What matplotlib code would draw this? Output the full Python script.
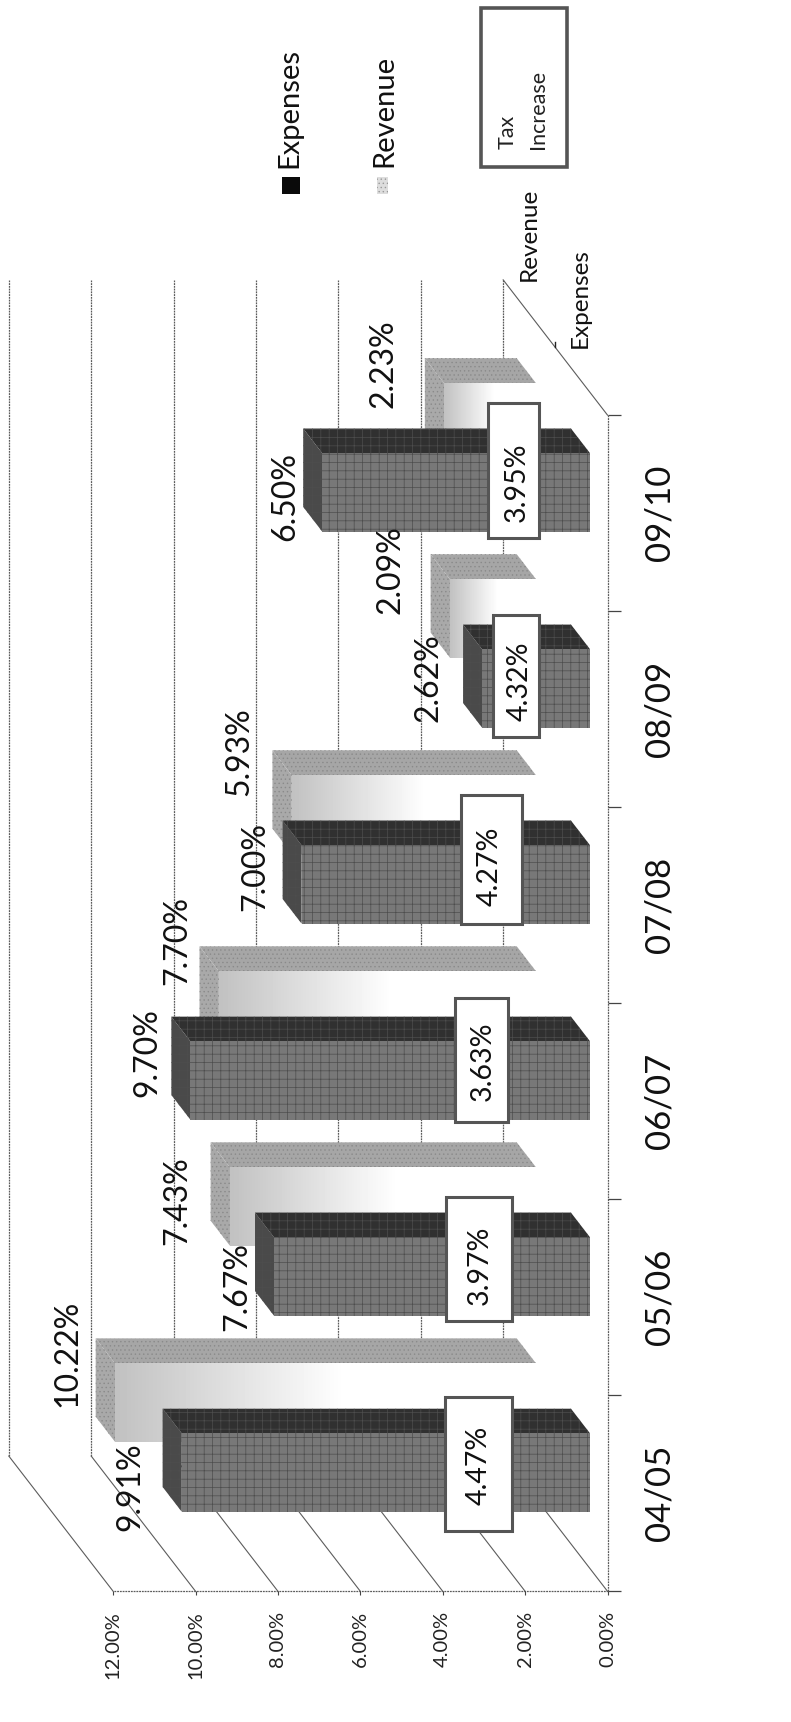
import numpy as np
import matplotlib
matplotlib.use("Agg")
import matplotlib.pyplot as plt
from matplotlib.patches import Polygon, Rectangle

plt.rcParams['font.family'] = ['Lato', 'DejaVu Sans']
plt.rcParams['hatch.linewidth'] = 0.5

years = ["04/05", "05/06", "06/07", "07/08", "08/09", "09/10"]
expenses = [9.91, 7.67, 9.70, 7.00, 2.62, 6.50]
revenue = [10.22, 7.43, 7.70, 5.93, 2.09, 2.23]
tax_increase = [4.47, 3.97, 3.63, 4.27, 4.32, 3.95]
value_ticks = [0, 2, 4, 6, 8, 10, 12]

# where the hand placed labels sit on the page, layout units are 720 wide, 1568 high
expense_label_xy = [(119, 1354), (216, 1171), (134, 958), (232, 789), (390, 617), (260, 452)]
revenue_label_xy = [(61, 1232), (161, 1093), (161, 856), (218, 684), (355, 519), (349, 331)]
tax_box_x = [(405, 466), (406, 466), (414, 462), (420, 475), (449, 491), (444, 491)]
tax_box_y = [(1272, 1394), (1090, 1203), (909, 1022), (724, 841), (560, 671), (367, 490)]
tax_label_xy = [(436, 1334), (437, 1152), (439, 966), (446, 789), (473, 620), (470, 439)]

# oblique projection: one unit of depth moves this far in value and category units
DEPTH_V = 2.533
DEPTH_C = 0.69
BAR_LOW, BAR_HIGH = 0.29, 0.69
EXPENSE_DEPTH = (0.168, 0.35)
REVENUE_DEPTH = (0.685, 0.87)
GRID = "#5c5c5c"
DOTS = (0, (1.5, 0.7))


def proj(v, c, z):
    return v + z * DEPTH_V, c + z * DEPTH_C


def page(x, y):
    return x / 720, 1 - y / 1568


fig = plt.figure(figsize=(7.91, 17.22), dpi=100)
fig.patch.set_facecolor("white")
ax = fig.add_axes([103 / 720, 1 - 1449 / 1568, 450 / 720, (1449 - 378) / 1568])
ax.set_xlim(12, 0)
ax.set_ylim(0, 6)
ax.patch.set_visible(False)
for s in ax.spines.values():
    s.set_visible(False)

# walls and floor
for v in value_ticks:
    x0, y0 = proj(v, 0, 0)
    x1, y1 = proj(v, 0, 1)
    ax.plot([x0, x1], [y0, y1], color=GRID, lw=0.8, clip_on=False, zorder=1)
    x2, y2 = proj(v, 6, 1)
    ax.plot([x1, x2], [y1, y2], color=GRID, lw=0.9, ls=DOTS, clip_on=False, zorder=1)
ax.plot(*zip(proj(0, 6, 0), proj(0, 6, 1)), color=GRID, lw=0.8, clip_on=False, zorder=1)
ax.plot(*zip(proj(0, 0, 0), proj(0, 6, 0)), color=GRID, lw=0.9, ls=DOTS, clip_on=False, zorder=1)
ax.plot(*zip(proj(0, 0, 0), proj(12, 0, 0)), color=GRID, lw=0.9, ls=DOTS, clip_on=False, zorder=1)

# tick on the depth axis between the two series
x0, y0 = proj(0, 6, 0.5)
ax.plot([x0, x0], [y0, y0 + 0.03], color="#222222", lw=1, clip_on=False, zorder=1)


def face(points, color, z, hatch=None, edge="none"):
    ax.add_patch(Polygon(points, closed=True, facecolor=color, edgecolor=edge, hatch=hatch,
                         lw=0, clip_on=False, zorder=z))


def draw_bar(i, value, depth, front, side, top, z, hatch=None, hatch_edge="none"):
    c0, c1 = i + BAR_LOW, i + BAR_HIGH
    z0, z1 = depth
    face([proj(0, c1, z0), proj(value, c1, z0), proj(value, c1, z1), proj(0, c1, z1)], side, z, hatch, hatch_edge)
    face([proj(value, c0, z0), proj(value, c1, z0), proj(value, c1, z1), proj(value, c0, z1)], top, z, hatch, hatch_edge)
    if front is not None:
        face([proj(0, c0, z0), proj(value, c0, z0), proj(value, c1, z0), proj(0, c1, z0)], front, z + 0.1, hatch, hatch_edge)


for i, value in enumerate(revenue):
    draw_bar(i, value, REVENUE_DEPTH, None, "#a6a6a6", "#a9a9a9", 2, "....", "#8a8a8a")
    # front of the revenue bar fades out towards the floor
    x0, y0 = proj(0, i + BAR_LOW, REVENUE_DEPTH[0])
    x1, y1 = proj(value, i + BAR_HIGH, REVENUE_DEPTH[0])
    ax.imshow(np.clip(np.linspace(1.2, 0.76, 64), 0, 1).reshape(1, -1), extent=(x0, x1, y0, y1), cmap="gray",
              vmin=0, vmax=1, aspect="auto", interpolation="bilinear", clip_on=False, zorder=2.1)

for i, value in enumerate(expenses):
    draw_bar(i, value, EXPENSE_DEPTH, "#787878", "#303030", "#4a4a4a", 3, "++", "#4d4d4d")

ax.set_xlim(12, 0)
ax.set_ylim(0, 6)

# axes ticks and labels
ax.set_xticks(value_ticks)
ax.set_xticklabels([f"{v:.2f}%" for v in value_ticks], rotation=90, fontsize=14.5, color="#222222")
ax.tick_params(axis="x", length=3, width=0.8, color="#444444", pad=11)
ax.yaxis.tick_right()
ax.set_yticks(range(7))
ax.set_yticklabels([])
ax.set_yticks(np.arange(6) + 0.5, minor=True)
ax.set_yticklabels(years, minor=True, rotation=90, fontsize=25, va="center", color="#111111")
ax.tick_params(axis="y", which="major", length=9, width=0.9, color="#444444")
ax.tick_params(axis="y", which="minor", length=0, pad=26)

# tax increase boxes across the bars
for value, (left, right), (top, bottom), (lx, ly) in zip(tax_increase, tax_box_x, tax_box_y, tax_label_xy):
    x0, y0 = page(left, bottom)
    x1, y1 = page(right, top)
    fig.add_artist(Rectangle((x0, y0), x1 - x0, y1 - y0, transform=fig.transFigure, facecolor="white",
                             edgecolor="#555555", lw=2.2, zorder=1))
    x, y = page(lx, ly)
    fig.text(x, y, f"{value:.2f}%", rotation=90, ha="center", va="center", fontsize=20.5, color="#111111")

for value, (lx, ly) in zip(expenses, expense_label_xy):
    x, y = page(lx, ly)
    fig.text(x, y, f"{value:.2f}%", rotation=90, ha="center", va="center", fontsize=23, color="#111111")
for value, (lx, ly) in zip(revenue, revenue_label_xy):
    x, y = page(lx, ly)
    fig.text(x, y, f"{value:.2f}%", rotation=90, ha="center", va="center", fontsize=23, color="#111111")

# legend
x0, y0 = page(257, 177)
fig.add_artist(Rectangle((x0, y0), 16 / 720, 16 / 1568, transform=fig.transFigure, facecolor="#0a0a0a",
                         edgecolor="none", zorder=1))
x0, y0 = page(343, 177)
fig.add_artist(Rectangle((x0, y0), 10 / 720, 16 / 1568, transform=fig.transFigure, facecolor="#dddddd",
                         edgecolor="#999999", hatch="....", lw=0, zorder=1))
for name, lx, ly in [("Expenses", 263, 98), ("Revenue", 350, 101)]:
    x, y = page(lx, ly)
    fig.text(x, y, name, rotation=90, ha="center", va="center", fontsize=21, color="#111111")

# depth axis series names
for name, lx, ly in [("Revenue", 482, 213), ("Expenses", 528, 271)]:
    x, y = page(lx, ly)
    fig.text(x, y, name, rotation=90, ha="center", va="center", fontsize=17.5, color="#111111")

# the key for the tax boxes
x0, y0 = page(438, 152)
x1, y1 = page(516, 7)
fig.add_artist(Rectangle((x0, y0), x1 - x0, y1 - y0, transform=fig.transFigure, facecolor="white",
                         edgecolor="#555555", lw=2.6, zorder=1))
x, y = page(462, 136)
fig.text(x, y, "Tax", rotation=90, ha="center", va="bottom", fontsize=15.5, color="#222222")
x, y = page(490, 136)
fig.text(x, y, "Increase", rotation=90, ha="center", va="bottom", fontsize=15.5, color="#222222")

fig.savefig("out.png", dpi=100)
